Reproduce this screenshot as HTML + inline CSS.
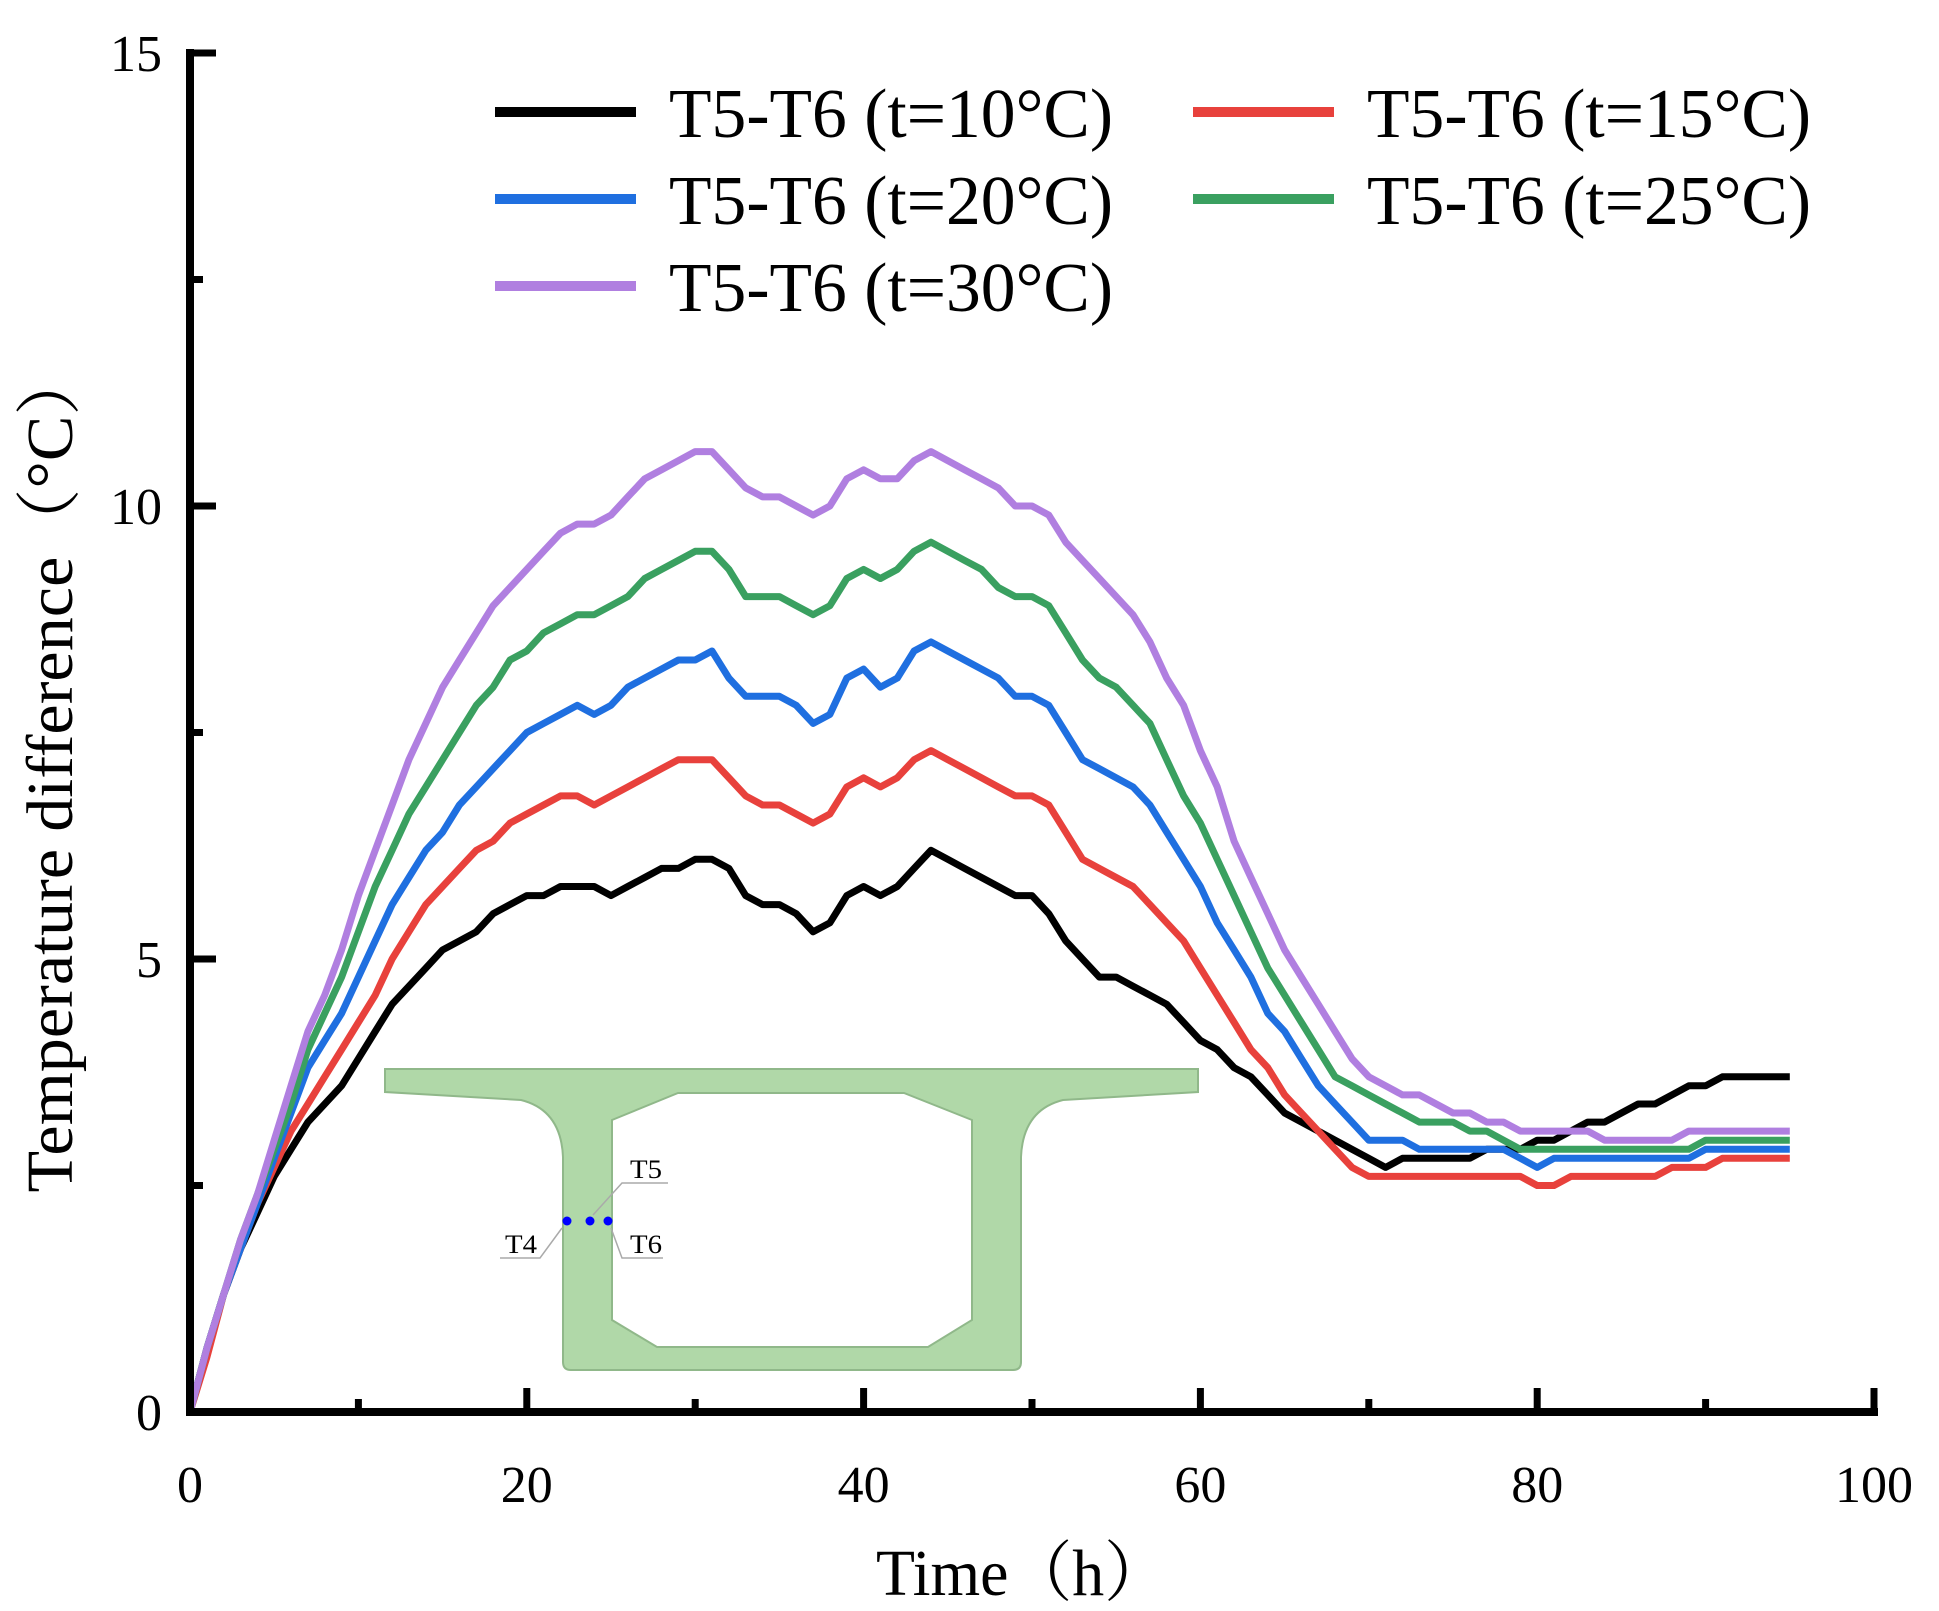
<!DOCTYPE html>
<html><head><meta charset="utf-8"><style>
html,body{margin:0;padding:0;background:#fff;}
svg{display:block;}
</style></head><body>
<svg id="chart" width="1939" height="1611" viewBox="0 0 1939 1611" xmlns="http://www.w3.org/2000/svg" font-family="'Liberation Serif', serif">
<g id="inset">
<path fill="#b0d8a8" stroke="#90b88a" stroke-width="2" fill-rule="evenodd"
 d="M385,1069 L1198,1069 L1198,1092 L1063,1100 Q1023,1110 1021,1157 L1021,1362 Q1021,1370 1013,1370 L571,1370 Q563,1370 563,1362 L563,1157 Q561,1110 521,1100 L385,1092 Z
 M678,1093 L904,1093 L972,1120 L972,1320 L928,1347 L657,1347 L612,1320 L612,1120 Z"/>
<g stroke="#aaa" stroke-width="1.5" fill="none">
<polyline points="668,1183 622,1183 593,1215"/>
<polyline points="500,1258 540,1258 562,1228"/>
<polyline points="663,1258 622,1258 611,1228"/>
</g>
<circle cx="567" cy="1221" r="4.5" fill="#0000ff"/>
<circle cx="590" cy="1221" r="4.5" fill="#0000ff"/>
<circle cx="608" cy="1221" r="4.5" fill="#0000ff"/>
<text x="630" y="1178" font-size="26" textLength="32" lengthAdjust="spacingAndGlyphs">T5</text>
<text x="505" y="1253" font-size="26" textLength="32" lengthAdjust="spacingAndGlyphs">T4</text>
<text x="630" y="1253" font-size="26" textLength="32" lengthAdjust="spacingAndGlyphs">T6</text>
</g>
<g id="series"></g>
<g id="axes"></g>
<g id="legend"></g>
<text transform="translate(72,770) rotate(-90)" text-anchor="middle" font-size="66" textLength="845" lengthAdjust="spacingAndGlyphs" font-family="'Liberation Serif','Noto Serif CJK SC',serif">Temperature difference（°C）</text>
<text x="1022" y="1595" text-anchor="middle" font-size="66" textLength="292" lengthAdjust="spacingAndGlyphs" font-family="'Liberation Serif','Noto Serif CJK SC',serif">Time（h）</text>
</svg>
<script>
const times = [];
for (let i = 0; i <= 95; i++) times.push(i);
const seriesNames = ["T5-T6 (t=10°C)","T5-T6 (t=15°C)","T5-T6 (t=20°C)","T5-T6 (t=25°C)","T5-T6 (t=30°C)"];
const t10 = [0,0.7,1.3,1.8,2.2,2.6,2.9,3.2,3.4,3.6,3.9,4.2,4.5,4.7,4.9,5.1,5.2,5.3,5.5,5.6,5.7,5.7,5.8,5.8,5.8,5.7,5.8,5.9,6.0,6.0,6.1,6.1,6.0,5.7,5.6,5.6,5.5,5.3,5.4,5.7,5.8,5.7,5.8,6.0,6.2,6.1,6.0,5.9,5.8,5.7,5.7,5.5,5.2,5.0,4.8,4.8,4.7,4.6,4.5,4.3,4.1,4.0,3.8,3.7,3.5,3.3,3.2,3.1,3.0,2.9,2.8,2.7,2.8,2.8,2.8,2.8,2.8,2.9,2.9,2.9,3.0,3.0,3.1,3.2,3.2,3.3,3.4,3.4,3.5,3.6,3.6,3.7,3.7,3.7,3.7,3.7];
const t15 = [0,0.6,1.3,1.8,2.3,2.7,3.1,3.4,3.7,4.0,4.3,4.6,5.0,5.3,5.6,5.8,6.0,6.2,6.3,6.5,6.6,6.7,6.8,6.8,6.7,6.8,6.9,7.0,7.1,7.2,7.2,7.2,7.0,6.8,6.7,6.7,6.6,6.5,6.6,6.9,7.0,6.9,7.0,7.2,7.3,7.2,7.1,7.0,6.9,6.8,6.8,6.7,6.4,6.1,6.0,5.9,5.8,5.6,5.4,5.2,4.9,4.6,4.3,4.0,3.8,3.5,3.3,3.1,2.9,2.7,2.6,2.6,2.6,2.6,2.6,2.6,2.6,2.6,2.6,2.6,2.5,2.5,2.6,2.6,2.6,2.6,2.6,2.6,2.7,2.7,2.7,2.8,2.8,2.8,2.8,2.8];
const t20 = [0,0.7,1.3,1.8,2.3,2.8,3.3,3.8,4.1,4.4,4.8,5.2,5.6,5.9,6.2,6.4,6.7,6.9,7.1,7.3,7.5,7.6,7.7,7.8,7.7,7.8,8.0,8.1,8.2,8.3,8.3,8.4,8.1,7.9,7.9,7.9,7.8,7.6,7.7,8.1,8.2,8.0,8.1,8.4,8.5,8.4,8.3,8.2,8.1,7.9,7.9,7.8,7.5,7.2,7.1,7.0,6.9,6.7,6.4,6.1,5.8,5.4,5.1,4.8,4.4,4.2,3.9,3.6,3.4,3.2,3.0,3.0,3.0,2.9,2.9,2.9,2.9,2.9,2.9,2.8,2.7,2.8,2.8,2.8,2.8,2.8,2.8,2.8,2.8,2.8,2.9,2.9,2.9,2.9,2.9,2.9];
const t25 = [0,0.7,1.3,1.9,2.4,2.9,3.4,4.0,4.4,4.8,5.3,5.8,6.2,6.6,6.9,7.2,7.5,7.8,8.0,8.3,8.4,8.6,8.7,8.8,8.8,8.9,9.0,9.2,9.3,9.4,9.5,9.5,9.3,9.0,9.0,9.0,8.9,8.8,8.9,9.2,9.3,9.2,9.3,9.5,9.6,9.5,9.4,9.3,9.1,9.0,9.0,8.9,8.6,8.3,8.1,8.0,7.8,7.6,7.2,6.8,6.5,6.1,5.7,5.3,4.9,4.6,4.3,4.0,3.7,3.6,3.5,3.4,3.3,3.2,3.2,3.2,3.1,3.1,3.0,2.9,2.9,2.9,2.9,2.9,2.9,2.9,2.9,2.9,2.9,2.9,3.0,3.0,3.0,3.0,3.0,3.0];
const t30 = [0,0.7,1.3,1.9,2.4,3.0,3.6,4.2,4.6,5.1,5.7,6.2,6.7,7.2,7.6,8.0,8.3,8.6,8.9,9.1,9.3,9.5,9.7,9.8,9.8,9.9,10.1,10.3,10.4,10.5,10.6,10.6,10.4,10.2,10.1,10.1,10.0,9.9,10.0,10.3,10.4,10.3,10.3,10.5,10.6,10.5,10.4,10.3,10.2,10.0,10.0,9.9,9.6,9.4,9.2,9.0,8.8,8.5,8.1,7.8,7.3,6.9,6.3,5.9,5.5,5.1,4.8,4.5,4.2,3.9,3.7,3.6,3.5,3.5,3.4,3.3,3.3,3.2,3.2,3.1,3.1,3.1,3.1,3.1,3.0,3.0,3.0,3.0,3.0,3.1,3.1,3.1,3.1,3.1,3.1,3.1];
const seriesColors = ["#000000","#e8413c","#1f6fe0","#3aa060","#b07fe0"];
const xTicks = [0,20,40,60,80,100];
const xMinor = [10,30,50,70,90];
const yTicks = [0,5,10,15];
const yMinor = [2.5,7.5,12.5];

const NS = "http://www.w3.org/2000/svg";
const X0 = 190, X1 = 1874, Y0 = 1412, Y1 = 53;
function sx(v){ return X0 + (X1 - X0) * v / 100; }
function sy(v){ return Y0 - (Y0 - Y1) * v / 15; }
function mk(tag, attrs, parent){ const e = document.createElementNS(NS, tag); for (const k in attrs) e.setAttribute(k, attrs[k]); parent.appendChild(e); return e; }

const allSeries = [t10, t15, t20, t25, t30];
const sg = document.getElementById("series");
const slugs = ["t10","t15","t20","t25","t30"];
allSeries.forEach((vals, i) => {
  const pts = vals.map((v, j) => sx(times[j]).toFixed(1) + "," + sy(v).toFixed(1)).join(" ");
  const pl = mk("polyline", {points: pts, fill: "none", stroke: seriesColors[i], "stroke-width": 7, "stroke-linejoin": "round"}, sg);
  
  
});

const ax = document.getElementById("axes");
const xl = mk("line", {x1: X0 - 4, y1: Y0, x2: X1 + 4, y2: Y0, stroke: "#000", "stroke-width": 8}, ax);


const yl = mk("line", {x1: X0, y1: Y0 + 4, x2: X0, y2: Y1 - 4, stroke: "#000", "stroke-width": 8}, ax);


xTicks.forEach(v => {
  const t = mk("line", {x1: sx(v), y1: Y0, x2: sx(v), y2: Y0 - 24, stroke: "#000", "stroke-width": 7}, ax);
  
  
  const l = mk("text", {x: sx(v), y: 1502, "text-anchor": "middle", "font-size": 52}, ax);
  
  
  l.textContent = v;
});
xMinor.forEach(v => {
  const t = mk("line", {x1: sx(v), y1: Y0, x2: sx(v), y2: Y0 - 13, stroke: "#000", "stroke-width": 7}, ax);
  
  
});
yTicks.forEach(v => {
  const t = mk("line", {x1: X0, y1: sy(v), x2: X0 + 26, y2: sy(v), stroke: "#000", "stroke-width": 7}, ax);
  
  
  const l = mk("text", {x: 162, y: sy(v) + 18, "text-anchor": "end", "font-size": 52}, ax);
  
  
  l.textContent = v;
});
yMinor.forEach(v => {
  const t = mk("line", {x1: X0, y1: sy(v), x2: X0 + 13, y2: sy(v), stroke: "#000", "stroke-width": 7}, ax);
  
  
});

const lg = document.getElementById("legend");
const legX = [495, 1193], legY = [112, 199, 286];
seriesNames.forEach((name, i) => {
  const col = i % 2, row = Math.floor(i / 2);
  const g = mk("g", {}, lg);
  
  
  mk("line", {x1: legX[col], y1: legY[row], x2: legX[col] + 141, y2: legY[row], stroke: seriesColors[i], "stroke-width": 10}, g);
  const tx = mk("text", {x: legX[col] + 174, y: legY[row] + 25, "font-size": 70, textLength: 444, lengthAdjust: "spacingAndGlyphs"}, g);
  tx.textContent = name;
});
</script>
</body></html>
